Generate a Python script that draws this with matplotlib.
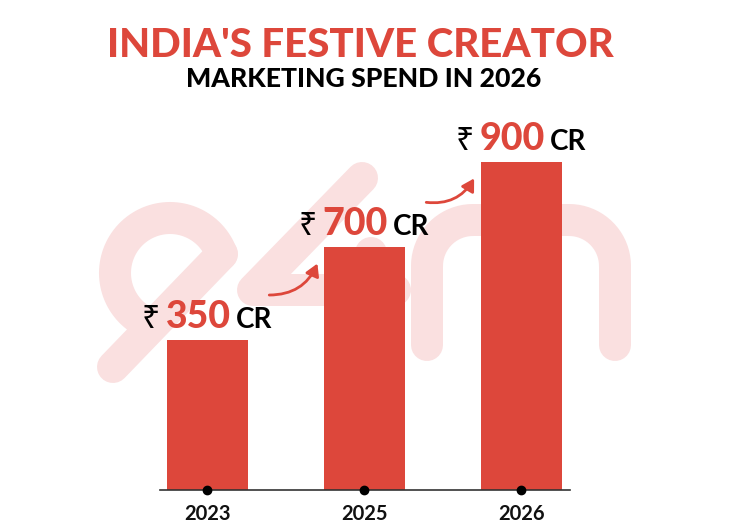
import numpy as np
import matplotlib
matplotlib.use("Agg")
import matplotlib.pyplot as plt
from matplotlib.lines import Line2D
from matplotlib.patches import FancyArrowPatch

# chart data
years = ["2023", "2025", "2026"]
spend_cr = [350, 700, 900]
# drawn bar heights (the infographic is not to scale)
bar_heights = [150, 243, 328]

title = "INDIA'S FESTIVE CREATOR"
subtitle = "MARKETING SPEND IN 2026"

RED = "#DD473B"
PINK = "#FAE0E0"
W, H = 730, 532

fig = plt.figure(figsize=(W / 100, H / 100), dpi=100)
fig.patch.set_facecolor("white")

# background axes in pixel units (y down) for the e4m watermark
bg = fig.add_axes([0, 0, 1, 1], zorder=0)
bg.set_xlim(0, W)
bg.set_ylim(H, 0)
bg.axis("off")

lw = 32 * 72 / 100  # 32 px stroke


def stroke(xs, ys):
    bg.add_line(Line2D(xs, ys, color=PINK, lw=lw, solid_capstyle="round",
                       solid_joinstyle="round"))


# "e"
t = np.radians(np.linspace(20, 250, 80))
stroke(170 + 55 * np.cos(t), 273 - 55 * np.sin(t))
stroke([222, 113], [254, 367])
# "4"
stroke([362, 253, 395], [178, 290, 290])
stroke([371, 371], [253, 345])
# "m"
r = 46
a1 = np.radians(np.linspace(180, 90, 20))
a2 = np.radians(np.linspace(90, 0, 20))
mx = np.concatenate([[427], 427 + r + r * np.cos(a1), 615 - r + r * np.cos(a2), [615]])
my = np.concatenate([[345], 220 + r - r * np.sin(a1), 220 + r - r * np.sin(a2), [345]])
stroke(mx, my)
stroke([521, 521], [220, 345])

# main chart axes
ax = fig.add_axes([160 / W, 42 / H, 410 / W, 380 / H], zorder=1)
ax.patch.set_alpha(0)
x = np.arange(len(years))
ax.bar(x, bar_heights, width=0.516, color=RED, zorder=2)
ax.set_xlim(-0.3025, 2.309)
ax.set_ylim(0, 380)
ax.plot(x, [0] * len(x), "o", color="black", ms=6, clip_on=False, zorder=4)

for s in ["top", "right", "left"]:
    ax.spines[s].set_visible(False)
ax.spines["bottom"].set_color("#333333")
ax.spines["bottom"].set_linewidth(1.2)
ax.set_yticks([])
ax.set_xticks(x)
ax.set_xticklabels(years, family="Lato", fontsize=14.5, fontweight="bold", color="#111111")
ax.tick_params(axis="x", length=0, pad=10)

# value labels: "₹ 350 CR"
fig.canvas.draw()
renderer = fig.canvas.get_renderer()
px = ax.transData.inverted()
for xi, h, v in zip(x, bar_heights, spend_cr):
    num = ax.text(xi - 9.5 / 157, h + 12, str(v), ha="center", va="baseline",
                  family="Lato", fontweight="black", fontsize=27, color=RED)
    bb = num.get_window_extent(renderer)
    left = px.transform((bb.x0 - 6, 0))[0]
    right = px.transform((bb.x1 + 5, 0))[0]
    ax.text(left, h + 12, "\u20b9", ha="right", va="baseline",
            family=["Noto Sans", "DejaVu Sans"], fontsize=23, color="black")
    ax.text(right, h + 12, "CR", ha="left", va="baseline",
            family="Lato", fontweight="bold", fontsize=20, color="black")

# growth arrows between bars
for i in range(len(x) - 1):
    start = (x[i] + 59 / 157, bar_heights[i] + 45)
    end = (x[i + 1] - 46 / 157, bar_heights[i + 1] - 14)
    ax.add_patch(FancyArrowPatch(start, end, arrowstyle="-|>,head_length=0.6,head_width=0.35",
                                 connectionstyle="arc3,rad=0.35", color=RED, lw=2,
                                 mutation_scale=12, zorder=3))

fig.text(360 / W, 1 - 57 / H, title, ha="center", va="baseline", family="Lato",
         fontweight="black", fontsize=29, color=RED)
fig.text(364 / W, 1 - 87 / H, subtitle, ha="center", va="baseline", family="Lato",
         fontweight="black", fontsize=19.2, color="black")

fig.savefig("out.png", dpi=100)
